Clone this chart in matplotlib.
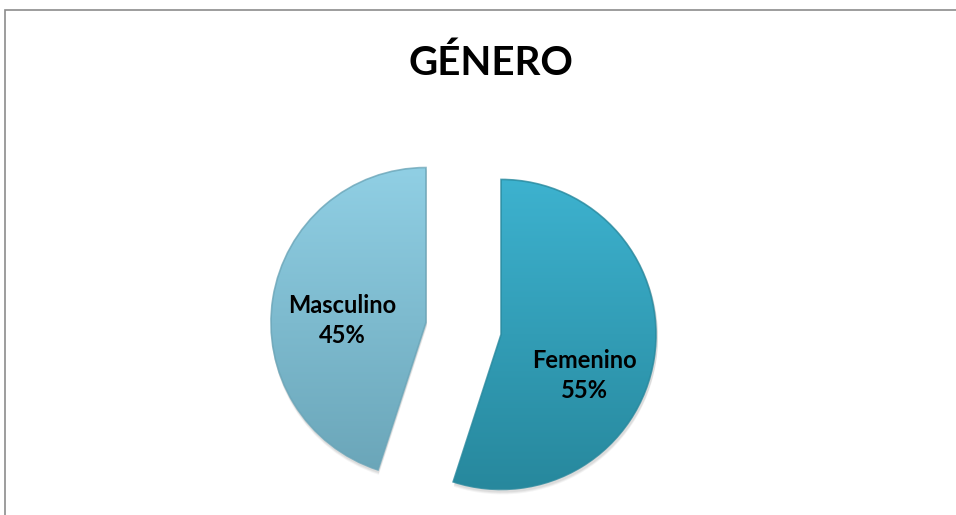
import numpy as np
import matplotlib.pyplot as plt
from matplotlib.colors import LinearSegmentedColormap
from matplotlib.patches import Rectangle, Wedge

labels = ['Femenino', 'Masculino']
values = [55, 45]
top_colors = ['#3DB2CF', '#90CFE4']
bottom_colors = ['#27889D', '#6AA5B8']
# label offsets from wedge centre, in pixels (x right, y up)
label_offsets = [(83, -41), (-83.5, 2)]

W, H = 956, 515
fig = plt.figure(figsize=(W / 100, H / 100), dpi=100)
ax = fig.add_axes([0, 0, 1, 1])

radius = 155
center = (463.5, H - 328.5)
wedges, _ = ax.pie(values, startangle=90, counterclock=False, radius=radius,
                   center=center, explode=[38, 38], frame=True,
                   wedgeprops=dict(linewidth=0, edgecolor='none'))

ax.set_xlim(0, W)
ax.set_ylim(0, H)
ax.set_aspect('equal')
ax.axis('off')

for w, lab, val, c1, c2, off in zip(wedges, labels, values, top_colors, bottom_colors, label_offsets):
    cx, cy = w.center
    # soft shadow under the slice
    for k, a in enumerate([0.05, 0.05, 0.04]):
        sh = Wedge((cx + 1, cy - 2 - k), w.r + 1, w.theta1, w.theta2,
                   facecolor='black', alpha=a, linewidth=0, zorder=1)
        ax.add_patch(sh)
    w.set_facecolor('none')
    w.set_zorder(3)
    # vertical gradient clipped to the slice
    cmap = LinearSegmentedColormap.from_list('g', [c2, c1])
    grad = np.linspace(0, 1, 256).reshape(-1, 1)
    im = ax.imshow(grad, cmap=cmap, origin='lower', aspect='auto',
                   extent=(cx - w.r, cx + w.r, cy - w.r, cy + w.r), zorder=2)
    im.set_clip_path(w)
    # darker rim
    rim = Wedge((cx, cy), w.r, w.theta1, w.theta2, facecolor='none',
                edgecolor=c2, linewidth=1.2, alpha=0.8, zorder=4)
    ax.add_patch(rim)
    ax.text(cx + off[0], cy + off[1], f'{lab}\n{val}%', ha='center', va='center',
            fontsize=17, fontweight='bold', family='Lato', linespacing=1.35, zorder=5)

ax.text(491, H - 63.5, 'GÉNERO', ha='center', va='center', fontsize=29,
        fontweight='bold', family='Lato')

# chart border (only top and left edges visible)
fig.add_artist(Rectangle((5 / W, -0.1), 1.2, (H - 10) / H + 0.1, transform=fig.transFigure,
                         fill=False, edgecolor='#8C8C8C', linewidth=1.2))

fig.savefig('out.png', dpi=100, facecolor='white')
